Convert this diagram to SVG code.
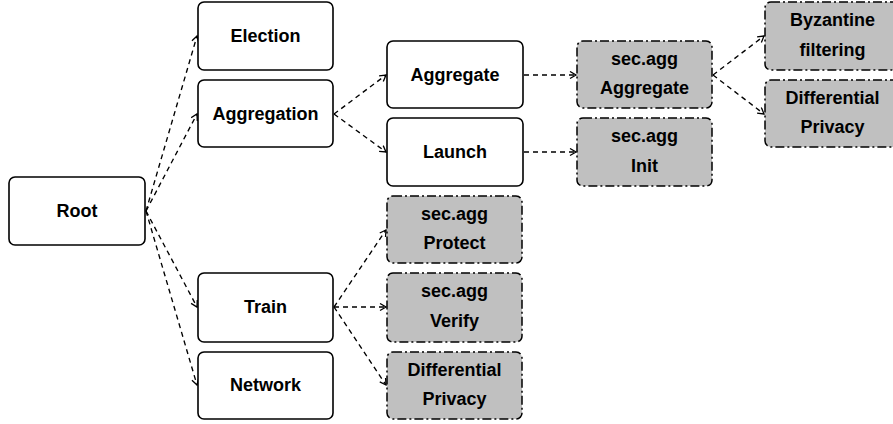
<svg xmlns="http://www.w3.org/2000/svg" width="893" height="424" viewBox="0 0 893 424">
<style>
.n rect{fill:#fff;stroke:#000;stroke-width:1.6}
.g rect{fill:#c0c0c0;stroke:#000;stroke-width:1.5;stroke-dasharray:9 3 2 3}
text{font-family:"Liberation Sans",Arial,sans-serif;font-weight:bold;font-size:18px;text-anchor:middle;fill:#000}
.c path{fill:none;stroke:#000;stroke-width:1.35;stroke-dasharray:5 4;marker-end:url(#ah)}
</style>
<defs>
<marker id="ah" markerUnits="userSpaceOnUse" markerWidth="10" markerHeight="10" refX="7" refY="4" orient="auto">
<path d="M1,0.5 L7,4 L1,7.5" fill="none" stroke="#000" stroke-width="1.3"/>
</marker>
</defs>
<rect width="893" height="424" fill="#fff"/>
<g class="c">
<path d="M146,211 L197,36"/>
<path d="M146,211 L197,114"/>
<path d="M146,211 L197,307"/>
<path d="M146,211 L197,385"/>
<path d="M334,114 L386,75"/>
<path d="M334,114 L386,152"/>
<path d="M524,75 L576,75"/>
<path d="M524,152 L576,152"/>
<path d="M713,75 L764,36"/>
<path d="M713,75 L764,114"/>
<path d="M334,307 L386,230"/>
<path d="M334,307 L386,307"/>
<path d="M334,307 L386,385"/>
</g>
<g id="root" class="n"><rect x="9" y="177" width="136" height="68" rx="6"/><text x="77" y="217">Root</text></g>
<g id="election" class="n"><rect x="198" y="2" width="135" height="68" rx="6"/><text x="265.5" y="42">Election</text></g>
<g id="aggregation" class="n"><rect x="198" y="80" width="135" height="67" rx="6"/><text x="265.5" y="120">Aggregation</text></g>
<g id="train" class="n"><rect x="198" y="273" width="135" height="69" rx="6"/><text x="265.5" y="313">Train</text></g>
<g id="network" class="n"><rect x="198" y="352" width="135" height="67" rx="6"/><text x="265.5" y="391">Network</text></g>
<g id="aggregate" class="n"><rect x="387" y="41" width="136" height="67" rx="6"/><text x="455" y="81">Aggregate</text></g>
<g id="launch" class="n"><rect x="387" y="118" width="136" height="68" rx="6"/><text x="455" y="158">Launch</text></g>
<g id="secagg-protect" class="g"><rect x="387" y="196" width="135" height="67" rx="6"/><text x="454.5" y="220">sec.agg</text><text x="454.5" y="249">Protect</text></g>
<g id="secagg-verify" class="g"><rect x="387" y="273" width="135" height="69" rx="6"/><text x="454.5" y="297">sec.agg</text><text x="454.5" y="327">Verify</text></g>
<g id="dp-train" class="g"><rect x="387" y="352" width="135" height="67" rx="6"/><text x="454.5" y="376">Differential</text><text x="454.5" y="405">Privacy</text></g>
<g id="secagg-aggregate" class="g"><rect x="577" y="41" width="135" height="67" rx="6"/><text x="644.5" y="65">sec.agg</text><text x="644.5" y="94">Aggregate</text></g>
<g id="secagg-init" class="g"><rect x="577" y="118" width="135" height="68" rx="6"/><text x="644.5" y="142">sec.agg</text><text x="644.5" y="172">Init</text></g>
<g id="byzantine" class="g"><rect x="765" y="2" width="135" height="68" rx="6"/><text x="832.5" y="26">Byzantine</text><text x="832.5" y="56">filtering</text></g>
<g id="dp-agg" class="g"><rect x="765" y="80" width="135" height="67" rx="6"/><text x="832.5" y="104">Differential</text><text x="832.5" y="133">Privacy</text></g>
</svg>
